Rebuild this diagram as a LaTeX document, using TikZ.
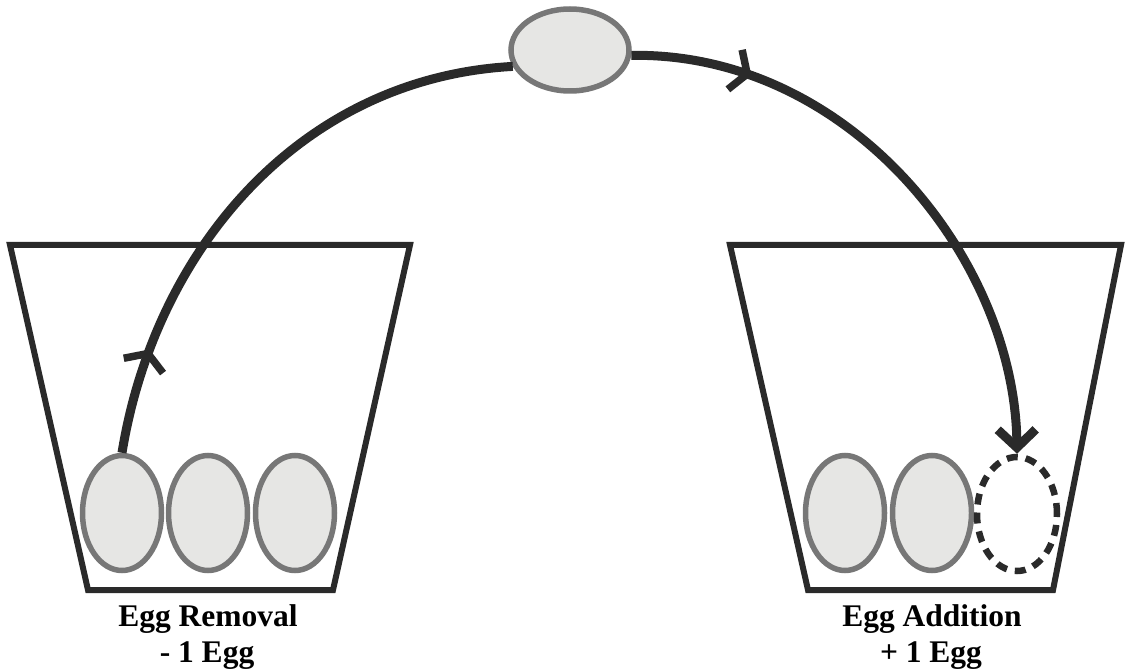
\documentclass[tikz,border=0pt]{standalone}
\usepackage{fontspec}
\setmainfont{Liberation Serif}
\usetikzlibrary{shapes.geometric,arrows.meta,decorations.markings}
\definecolor{ink}{HTML}{2A2A2A}
\definecolor{eggfill}{HTML}{E6E6E4}
\definecolor{eggline}{HTML}{777777}
\tikzset{
  nest/.style={draw=ink,line width=6pt,line join=miter},
  egg/.style={ellipse,draw=eggline,fill=eggfill,line width=5.5pt,inner sep=0pt,minimum width=79pt,minimum height=115pt},
  ghostegg/.style={ellipse,draw=ink,line width=6.5pt,dash pattern=on 11pt off 8pt,inner sep=0pt,minimum width=80pt,minimum height=114pt},
  topegg/.style={ellipse,draw=eggline,fill=eggfill,line width=5.5pt,inner sep=0pt,minimum width=118pt,minimum height=82pt},
  flow/.style={draw=ink,line width=9pt},
  midarrow/.style={postaction={decorate},decoration={markings,
     mark=at position #1 with {\arrow[ink,line width=7.5pt]{Straight Barb[length=13pt,width=42pt]}}}},
  label/.style={font=\bfseries\fontsize{31.5}{36}\selectfont,inner sep=0pt,anchor=base}
}
\begin{document}
\begin{tikzpicture}[x=1pt,y=-1pt]
\useasboundingbox (0,0) rectangle (1125,671);
% nests
\draw[nest] (10,245) -- (410,245) -- (333,590) -- (88,590) -- cycle;
\draw[nest] (730,245) -- (1121,245) -- (1053,590) -- (808,590) -- cycle;
% eggs
\node[egg] (l1) at (122,513) {};
\node[egg] (l2) at (208,513) {};
\node[egg] (l3) at (295,513) {};
\node[egg] (r1) at (845,513) {};
\node[egg] (r2) at (932,513) {};
\node[ghostegg] (r3) at (1017,514) {};
\node[topegg] (top) at (570,50) {};
% flow
\draw[flow,midarrow=0.18] (l1.north) .. controls (155,250) and (300,78) .. (top.196);
\draw[flow,midarrow=0.2,-{Straight Barb[length=18pt,width=38pt]}] (top.355) .. controls (850,52) and (1015,260) .. (r3.north);
% labels
\node[label] (t1) at (208,626) {Egg Removal};
\node[label] (t2) at (207,662) {- 1 Egg};
\node[label] (t3) at (932,626) {Egg Addition};
\node[label] (t4) at (931,662) {+ 1 Egg};
\end{tikzpicture}
\end{document}
